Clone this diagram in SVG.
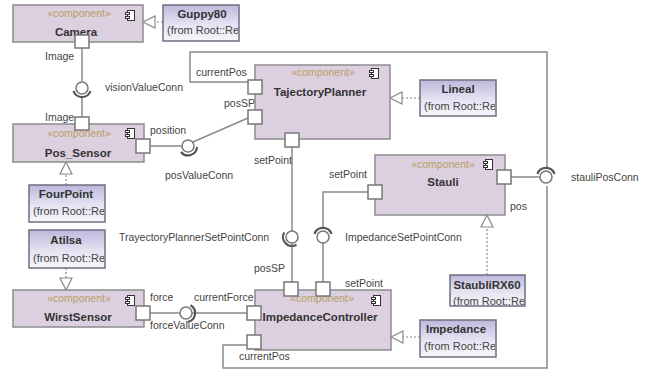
<svg xmlns="http://www.w3.org/2000/svg" width="651" height="372" viewBox="0 0 651 372">
<defs>
<linearGradient id="lg" x1="0" y1="0" x2="0" y2="1">
<stop offset="0" stop-color="#bcb8dc"/>
<stop offset="0.55" stop-color="#e6e4f2"/>
<stop offset="1" stop-color="#f6f6fb"/>
</linearGradient>
<g id="icon">
<rect x="2.5" y="0.5" width="7" height="10" fill="#fff" stroke="#333" stroke-width="1"/>
<rect x="0.5" y="2.5" width="4" height="2" fill="#fff" stroke="#333" stroke-width="1"/>
<rect x="0.5" y="6.5" width="4" height="2" fill="#fff" stroke="#333" stroke-width="1"/>
</g>
<clipPath id="cG"><rect x="163" y="5" width="75" height="36"/></clipPath>
<clipPath id="cF"><rect x="29" y="185" width="75" height="37"/></clipPath>
<clipPath id="cA"><rect x="29" y="230" width="75" height="38"/></clipPath>
<clipPath id="cL"><rect x="420" y="80" width="75" height="36"/></clipPath>
<clipPath id="cS"><rect x="450" y="275" width="74" height="31"/></clipPath>
<clipPath id="cI"><rect x="420" y="320" width="75" height="37"/></clipPath>
<style>
.comp{fill:#dccfe0;stroke:#8c8c8c;stroke-width:1.5}
.lib{fill:url(#lg);stroke:#6e6e80;stroke-width:1.5}
.port{fill:#fff;stroke:#777;stroke-width:1.5}
.ln{fill:none;stroke:#8a8a8a;stroke-width:1.5}
.dash{fill:none;stroke:#888;stroke-width:1.2;stroke-dasharray:2 2}
.tri{fill:#fff;stroke:#888;stroke-width:1.2}
.ball{fill:#fff;stroke:#777;stroke-width:1.5}
.sock{fill:none;stroke:#555;stroke-width:2.2}
text{font-family:"Liberation Sans",Arial,sans-serif}
.st{font-size:10.5px;fill:#b8a060;text-anchor:middle}
.nm{font-size:11.5px;font-weight:bold;fill:#333;text-anchor:middle}
.lb{font-size:10.5px;fill:#444}
.fr{font-size:11px;fill:#444}
</style>
</defs>

<g id="connectors">
<line class="dash" x1="163" y1="22" x2="155" y2="22"/>
<polygon class="tri" points="143,22 155,16 155,28"/>
<line class="dash" x1="420" y1="98" x2="402" y2="98"/>
<polygon class="tri" points="390,98 402,92 402,104"/>
<line class="dash" x1="66" y1="185" x2="66" y2="174"/>
<polygon class="tri" points="66,162 60,174 72,174"/>
<line class="dash" x1="66" y1="268" x2="66" y2="278"/>
<polygon class="tri" points="66,290 60,278 72,278"/>
<line class="dash" x1="487" y1="275" x2="487" y2="227"/>
<polygon class="tri" points="487,215 481,227 493,227"/>
<line class="dash" x1="420" y1="337" x2="403" y2="337"/>
<polygon class="tri" points="391,337 403,331 403,343"/>

<line class="ln" x1="82" y1="48" x2="82" y2="81"/>
<line class="ln" x1="82" y1="97" x2="82" y2="117"/>
<circle class="ball" cx="82" cy="88" r="6"/>
<path class="sock" d="M73.5,91 A9,9 0 0 0 90.5,91"/>

<line class="ln" x1="150" y1="146" x2="182" y2="146"/>
<line class="ln" x1="193" y1="142" x2="248" y2="118"/>
<circle class="ball" cx="188" cy="146" r="6"/>
<path class="sock" d="M181,152 A9,9 0 0 0 197,147"/>

<path class="ln" d="M248,82 H190 V52 H547 V168"/>
<path class="ln" d="M547,186 V368 H223 V345 H247"/>
<line class="ln" x1="511" y1="177" x2="540" y2="177"/>
<circle class="ball" cx="546" cy="177" r="6"/>
<path class="sock" d="M537.5,174 A9,9 0 0 1 554.5,174"/>

<line class="ln" x1="292" y1="147" x2="292" y2="231"/>
<line class="ln" x1="292" y1="243" x2="292" y2="282"/>
<circle class="ball" cx="292" cy="237" r="6"/>
<path class="sock" d="M284.2,232.5 A9,9 0 0 0 296.5,244.8"/>

<path class="ln" d="M368,192 H323 V228"/>
<line class="ln" x1="323" y1="243" x2="323" y2="282"/>
<circle class="ball" cx="323" cy="237" r="6"/>
<path class="sock" d="M314.5,234 A9,9 0 0 1 331.5,234"/>

<line class="ln" x1="150" y1="313" x2="180" y2="313"/>
<line class="ln" x1="192" y1="313" x2="247" y2="313"/>
<circle class="ball" cx="186" cy="313" r="6"/>
<path class="sock" d="M190.5,305.2 A9,9 0 0 1 187.6,321.9"/>

<text class="lb" x="45" y="60">Image</text>
<text class="lb" x="45" y="121">Image</text>
<text class="lb" x="105" y="91">visionValueConn</text>
<text class="lb" x="150" y="134">position</text>
<text class="lb" x="165" y="179">posValueConn</text>
<text class="lb" x="196" y="76">currentPos</text>
<text class="lb" x="224" y="107">posSP</text>
<text class="lb" x="254" y="164">setPoint</text>
<text class="lb" x="329" y="178">setPoint</text>
<text class="lb" x="510" y="210">pos</text>
<text class="lb" x="571" y="181">stauliPosConn</text>
<text class="lb" x="119" y="241">TrayectoryPlannerSetPointConn</text>
<text class="lb" x="345" y="241">ImpedanceSetPointConn</text>
<text class="lb" x="254" y="272">posSP</text>
<text class="lb" x="345" y="287">setPoint</text>
<text class="lb" x="150" y="301">force</text>
<text class="lb" x="194" y="301">currentForce</text>
<text class="lb" x="150" y="329">forceValueConn</text>
<text class="lb" x="239" y="360">currentPos</text>
</g>

<g id="Camera">
<rect class="comp" x="13" y="5" width="130" height="37"/>
<text class="st" x="79" y="17">«component»</text>
<text class="nm" x="76" y="36">Camera</text>
<use href="#icon" x="125" y="10"/>
<rect class="port" x="75" y="35" width="14" height="13"/>
</g>

<g id="Guppy80">
<rect class="lib" x="163" y="5" width="76" height="36"/>
<text class="nm" x="202" y="18">Guppy80</text>
<text class="fr" x="167" y="34" clip-path="url(#cG)">(from Root::Re</text>
</g>

<g id="Pos_Sensor">
<rect class="comp" x="13" y="124" width="131" height="38"/>
<text class="st" x="79" y="137">«component»</text>
<text class="nm" x="78" y="157">Pos_Sensor</text>
<use href="#icon" x="125" y="128"/>
<rect class="port" x="75" y="117" width="14" height="13"/>
<rect class="port" x="136" y="139" width="14" height="14"/>
</g>

<g id="FourPoint">
<rect class="lib" x="29" y="185" width="76" height="37"/>
<text class="nm" x="66" y="198">FourPoint</text>
<text class="fr" x="33" y="215" clip-path="url(#cF)">(from Root::Re</text>
</g>

<g id="Atilsa">
<rect class="lib" x="29" y="230" width="76" height="38"/>
<text class="nm" x="66" y="244">Atilsa</text>
<text class="fr" x="33" y="262" clip-path="url(#cA)">(from Root::Re</text>
</g>

<g id="WirstSensor">
<rect class="comp" x="13" y="290" width="131" height="37"/>
<text class="st" x="79" y="302">«component»</text>
<text class="nm" x="78" y="321">WirstSensor</text>
<use href="#icon" x="125" y="295"/>
<rect class="port" x="136" y="306" width="14" height="14"/>
</g>

<g id="TajectoryPlanner">
<rect class="comp" x="255" y="65" width="135" height="74"/>
<text class="st" x="323" y="76">«component»</text>
<text class="nm" x="320" y="96">TajectoryPlanner</text>
<use href="#icon" x="369" y="68"/>
<rect class="port" x="248" y="80" width="14" height="14"/>
<rect class="port" x="248" y="110" width="14" height="14"/>
<rect class="port" x="285" y="133" width="14" height="14"/>
</g>

<g id="Lineal">
<rect class="lib" x="420" y="80" width="76" height="36"/>
<text class="nm" x="458" y="93">Lineal</text>
<text class="fr" x="424" y="110" clip-path="url(#cL)">(from Root::Re</text>
</g>

<g id="Stauli">
<rect class="comp" x="375" y="155" width="130" height="60"/>
<text class="st" x="443" y="168">«component»</text>
<text class="nm" x="443" y="186">Stauli</text>
<use href="#icon" x="483" y="159"/>
<rect class="port" x="368" y="185" width="14" height="14"/>
<rect class="port" x="497" y="170" width="14" height="14"/>
</g>

<g id="StaubliRX60">
<rect class="lib" x="450" y="275" width="75" height="31"/>
<text class="nm" x="487" y="289">StaubliRX60</text>
<text class="fr" x="453" y="305" clip-path="url(#cS)">(from Root::Re</text>
</g>

<g id="ImpedanceController">
<rect class="comp" x="255" y="290" width="136" height="60"/>
<text class="st" x="322" y="302">«component»</text>
<text class="nm" x="320" y="321">ImpedanceController</text>
<use href="#icon" x="371" y="295"/>
<rect class="port" x="284" y="282" width="14" height="14"/>
<rect class="port" x="316" y="282" width="14" height="14"/>
<rect class="port" x="247" y="306" width="14" height="14"/>
<rect class="port" x="247" y="335" width="14" height="14"/>
</g>

<g id="Impedance">
<rect class="lib" x="420" y="320" width="76" height="37"/>
<text class="nm" x="456" y="333">Impedance</text>
<text class="fr" x="424" y="350" clip-path="url(#cI)">(from Root::Re</text>
</g>
</svg>
